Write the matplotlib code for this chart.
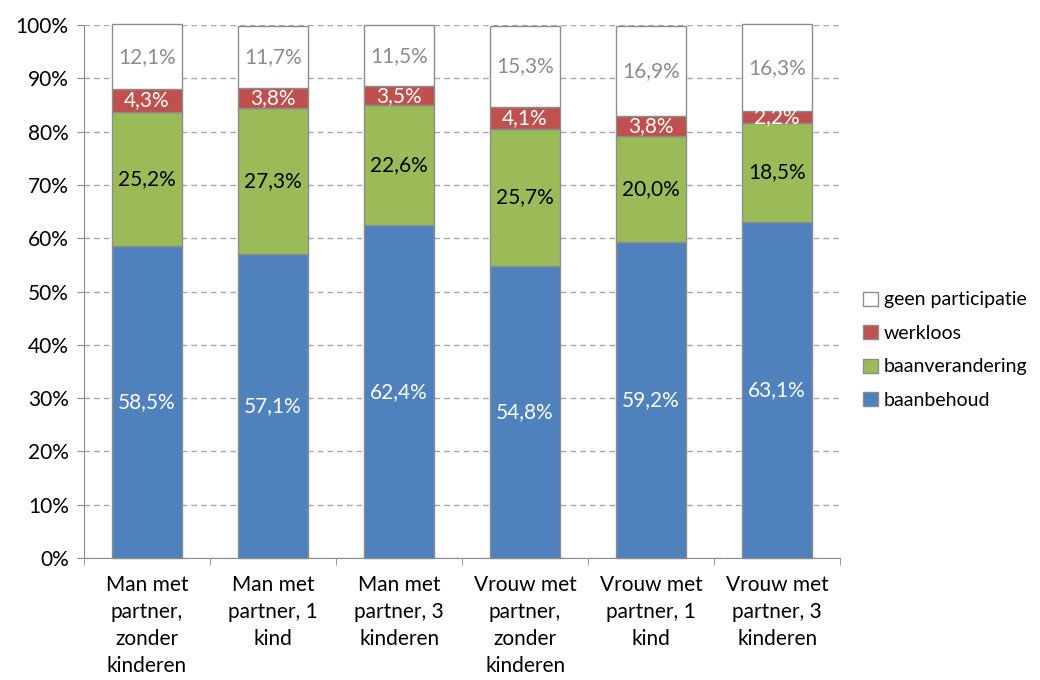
import numpy as np
import matplotlib.pyplot as plt
from matplotlib.ticker import FuncFormatter, FixedLocator

plt.rcParams['font.family'] = ['Lato', 'DejaVu Sans']

categories = ["Man met\npartner,\nzonder\nkinderen", "Man met\npartner, 1\nkind",
              "Man met\npartner, 3\nkinderen", "Vrouw met\npartner,\nzonder\nkinderen",
              "Vrouw met\npartner, 1\nkind", "Vrouw met\npartner, 3\nkinderen"]
baanbehoud = [58.5, 57.1, 62.4, 54.8, 59.2, 63.1]
baanverandering = [25.2, 27.3, 22.6, 25.7, 20.0, 18.5]
werkloos = [4.3, 3.8, 3.5, 4.1, 3.8, 2.2]
geen = [12.1, 11.7, 11.5, 15.3, 16.9, 16.3]

series = [("baanbehoud", baanbehoud, "#4F81BD", "white"),
          ("baanverandering", baanverandering, "#9BBB59", "black"),
          ("werkloos", werkloos, "#C0504D", "white"),
          ("geen participatie", geen, "white", "#8C8C8C")]

fs = 15

fig = plt.figure(figsize=(10.4, 6.8), dpi=100)
ax = fig.add_axes([0.0808, 0.1794, 0.727, 0.7838])

x = np.arange(len(categories))
bottom = np.zeros(len(categories))
handles = []
for name, vals, col, tcol in series:
    vals = np.array(vals)
    b = ax.bar(x, vals, 0.556, bottom=bottom, color=col, edgecolor="#8C8C8C",
               linewidth=1, label=name, zorder=3, clip_on=False)
    handles.append(b)
    for xi, v, b0 in zip(x, vals, bottom):
        ax.text(xi, b0 + v / 2, f"{v:.1f}%".replace(".", ","), ha="center",
                va="center", color=tcol, fontsize=fs, zorder=4)
    bottom = bottom + vals

ax.set_xlim(-0.5, len(categories) - 0.5)
ax.set_ylim(0, 100)
ax.set_yticks(np.arange(0, 101, 10))
ax.yaxis.set_major_formatter(FuncFormatter(lambda v, p: f"{v:.0f}%"))
ax.yaxis.grid(True, linestyle=(0, (4, 3)), color="#A6A6A6", linewidth=1, zorder=0)
ax.set_xticks(x)
ax.set_xticklabels(categories, fontsize=fs, linespacing=1.45)
ax.tick_params(axis="x", length=0, pad=12)
ax.xaxis.set_minor_locator(FixedLocator(np.arange(-0.5, len(categories), 1)))
ax.tick_params(axis="x", which="minor", length=5, color="#8C8C8C")
ax.tick_params(axis="y", labelsize=fs, length=5, color="#8C8C8C", pad=6)
for s in ["top", "right"]:
    ax.spines[s].set_visible(False)
for s in ["left", "bottom"]:
    ax.spines[s].set_color("#8C8C8C")

leg = fig.legend(handles[::-1], [h.get_label() for h in handles[::-1]],
                 loc="center left", bbox_to_anchor=(0.830, 0.485), frameon=False,
                 fontsize=14, handlelength=0.75, handleheight=0.75,
                 handletextpad=0.3, labelspacing=0.85, borderpad=0,
                 borderaxespad=0)

fig.savefig("out.png", dpi=100)
